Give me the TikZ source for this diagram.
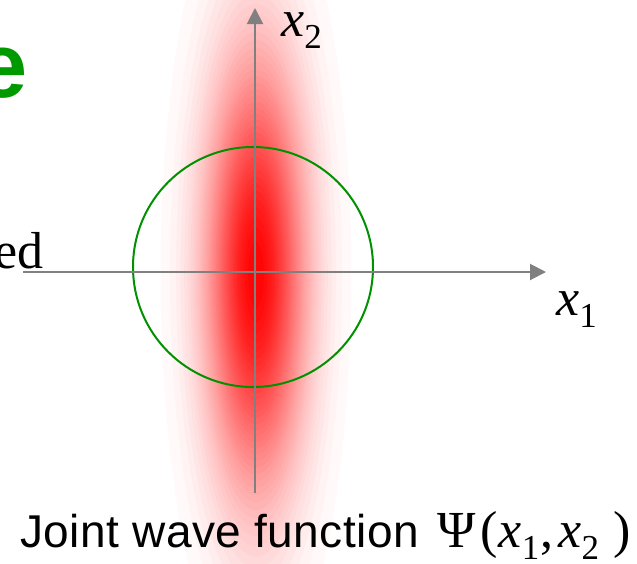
\documentclass[tikz,border=0pt]{standalone}
\usepackage{fontspec}
\setmainfont{Liberation Serif}
\newfontfamily\arialf{Liberation Sans}
\newfontfamily\capfont[LetterSpace=1.0]{Liberation Sans}
\usetikzlibrary{arrows.meta}
\definecolor{axisgray}{RGB}{128,128,128}
\definecolor{titlegreen}{RGB}{0,153,0}
\definecolor{ringgreen}{RGB}{0,145,0}
\newcommand\mysub[1]{\raisebox{-12pt}{\fontsize{35}{35}\selectfont #1}}
\begin{document}
\begin{tikzpicture}[x=1pt,y=-1pt,
  axis/.style={draw=axisgray, line width=2pt, -{Triangle[length=16pt,width=16pt]}},
  serif/.style={font=\fontsize{52}{52}\selectfont, inner sep=0pt},
  caption/.style={font=\capfont\fontsize{46}{46}\selectfont, inner sep=0pt},
  title/.style={font=\arialf\bfseries\fontsize{92}{92}\selectfont, text=titlegreen, inner sep=0pt},
  ring/.style={draw=ringgreen, line width=2pt, circle, minimum size=240pt, inner sep=0pt}]
\useasboundingbox (0,0) rectangle (637,563);
\begin{scope}
\clip (0,0) rectangle (637,563);
\coordinate (g) at (256,275);
\foreach \k in {1,...,40}{
  \pgfmathsetmacro\gs{sqrt(-2*ln(\k/41))}
  \pgfmathsetmacro\gp{100*\k/41}
  \pgfmathsetmacro\grx{35*\gs}
  \pgfmathsetmacro\gry{150*\gs}
  \fill[red!\gp!white] (g) ellipse [x radius=\grx pt, y radius=\gry pt];
}
\end{scope}
\node[ring] (circ) at (253,267) {};
\coordinate (xs) at (23,272);
\coordinate (xe) at (546,272);
\coordinate (ys) at (255,493);
\coordinate (ye) at (255,8);
\draw[axis] (xs) -- (xe);
\draw[axis] (ys) -- (ye);
\node[serif, anchor=base west] (lx2) at (281,36) {\textit{x}\mysub{2}};
\node[serif, anchor=base west] (lx1) at (556,315) {\textit{x}\mysub{1}};
\node[serif, anchor=base east] (ed) at (44,268) {ed};
\node[title, anchor=base east] (ttl) at (27.5,97) {e};
\node[caption, anchor=base west] (cap) at (20,547) {Joint wave function};
\node[serif, anchor=base west] (psi) at (437,547) {Ψ\kern5pt(\kern1pt\textit{x}\mysub{1}\kern1pt,\kern5pt\textit{x}\mysub{2}\kern14pt)};
\end{tikzpicture}
\end{document}
